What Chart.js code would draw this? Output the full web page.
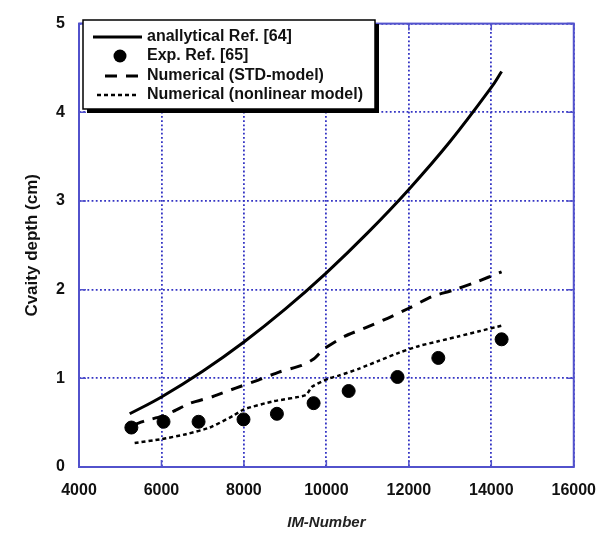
<!DOCTYPE html>
<html>
<head>
<meta charset="utf-8">
<script src="https://cdn.jsdelivr.net/npm/chart.js@4"></script>
<style>
  html, body { margin: 0; padding: 0; background: #fff; }
  #wrap { width: 610px; height: 538px; }
</style>
</head>
<body>
<div id="wrap"><canvas id="chart" width="610" height="538"></canvas></div>
<script>
// ---- data ----
const analyticalX = [5230, 6000, 7000, 8000, 9000, 10000, 11000, 12000, 13000, 14000, 14250];
const analyticalY = [0.60, 0.79, 1.08, 1.41, 1.78, 2.19, 2.64, 3.13, 3.67, 4.28, 4.46];

const expX = [5270, 6050, 6900, 7990, 8800, 9690, 10540, 11725, 12715, 14250];
const expY = [0.445, 0.51, 0.51, 0.537, 0.60, 0.72, 0.857, 1.015, 1.23, 1.44];

const stdX = [5300, 5600, 6000, 6300, 6700, 7250, 7800, 8350, 8850, 9400, 9700, 9950, 10450, 11000, 11500, 12000, 12550, 13050, 13600, 14250];
const stdY = [0.47, 0.52, 0.57, 0.63, 0.72, 0.795, 0.89, 0.98, 1.07, 1.145, 1.22, 1.335, 1.475, 1.58, 1.68, 1.79, 1.92, 1.99, 2.08, 2.20];

const nonlinX = [5350, 6000, 6600, 7170, 7730, 8000, 8700, 9500, 9650, 10070, 10300, 10800, 11280, 11770, 12250, 12730, 13220, 13700, 14300];
const nonlinY = [0.27, 0.315, 0.37, 0.445, 0.575, 0.65, 0.74, 0.81, 0.905, 1.0, 1.03, 1.11, 1.20, 1.29, 1.365, 1.42, 1.475, 1.53, 1.60];

const legendLabels = ['anallytical Ref. [64]', 'Exp. Ref. [65]', 'Numerical (STD-model)', 'Numerical (nonlinear model)'];

const BLUE = '#3434c4';
const FRAME = '#5252cc';
const FONT = 'Liberation Sans, Arial, sans-serif';

const pts = (xs, ys) => xs.map((x, i) => ({ x, y: ys[i] }));

// solid frame + short inner ticks
const framePlugin = {
    id: 'frame',
    beforeDatasetsDraw(chart) {
        const { ctx, chartArea: a, scales } = chart;
        ctx.save();
        ctx.strokeStyle = FRAME;
        ctx.lineWidth = 2;
        ctx.strokeRect(a.left, a.top, a.right - a.left, a.bottom - a.top);
        ctx.lineWidth = 1.5;
        ctx.beginPath();
        scales.x.ticks.forEach(t => {
            const px = scales.x.getPixelForValue(t.value);
            ctx.moveTo(px, a.bottom); ctx.lineTo(px, a.bottom - 7);
            ctx.moveTo(px, a.top); ctx.lineTo(px, a.top + 7);
        });
        scales.y.ticks.forEach(t => {
            const py = scales.y.getPixelForValue(t.value);
            ctx.moveTo(a.left, py); ctx.lineTo(a.left + 7, py);
            ctx.moveTo(a.right, py); ctx.lineTo(a.right - 7, py);
        });
        ctx.stroke();
        ctx.restore();
    }
};

// boxed legend with drop shadow, top-left inside the plot
const legendPlugin = {
    id: 'boxLegend',
    afterDatasetsDraw(chart) {
        const { ctx } = chart;
        const x0 = 83, y0 = 20, w = 292, h = 89;
        ctx.save();
        ctx.fillStyle = '#000';
        ctx.fillRect(x0 + 4, y0 + 4, w, h);
        ctx.fillStyle = '#fff';
        ctx.fillRect(x0, y0, w, h);
        ctx.strokeStyle = '#000';
        ctx.lineWidth = 1.5;
        ctx.strokeRect(x0, y0, w, h);

        const rows = [37, 56, 76, 95];
        ctx.strokeStyle = '#000';
        // solid
        ctx.lineWidth = 3;
        ctx.beginPath(); ctx.moveTo(93, rows[0]); ctx.lineTo(142, rows[0]); ctx.stroke();
        // dot
        ctx.beginPath(); ctx.arc(120, rows[1], 6.5, 0, Math.PI * 2); ctx.fillStyle = '#000'; ctx.fill();
        // dashed
        ctx.setLineDash([12, 9]);
        ctx.beginPath(); ctx.moveTo(105, rows[2]); ctx.lineTo(140, rows[2]); ctx.stroke();
        // dotted
        ctx.lineWidth = 2.5;
        ctx.setLineDash([4, 3]);
        ctx.beginPath(); ctx.moveTo(97, rows[3]); ctx.lineTo(139, rows[3]); ctx.stroke();
        ctx.setLineDash([]);

        ctx.fillStyle = '#111';
        ctx.font = 'bold 16px ' + FONT;
        ctx.textBaseline = 'middle';
        legendLabels.forEach((t, i) => ctx.fillText(t, 147, rows[i]));
        ctx.restore();
    }
};

new Chart(document.getElementById('chart'), {
    type: 'scatter',
    data: {
        datasets: [
            {
                type: 'line',
                label: legendLabels[0],
                data: pts(analyticalX, analyticalY),
                borderColor: '#000',
                borderWidth: 3,
                pointRadius: 0,
                tension: 0.4,
                fill: false
            },
            {
                label: legendLabels[1],
                data: pts(expX, expY),
                backgroundColor: '#000',
                borderColor: '#000',
                pointRadius: 6.5
            },
            {
                type: 'line',
                label: legendLabels[2],
                data: pts(stdX, stdY),
                borderColor: '#000',
                borderWidth: 3,
                borderDash: [12, 9],
                pointRadius: 0,
                tension: 0.2,
                fill: false
            },
            {
                type: 'line',
                label: legendLabels[3],
                data: pts(nonlinX, nonlinY),
                borderColor: '#000',
                borderWidth: 2.5,
                borderDash: [4, 3],
                pointRadius: 0,
                tension: 0.2,
                fill: false
            }
        ]
    },
    options: {
        responsive: false,
        animation: false,
        layout: { padding: { top: 14, right: 35, left: 0, bottom: 0 } },
        plugins: {
            legend: { display: false },
            tooltip: { enabled: false }
        },
        scales: {
            x: {
                type: 'linear',
                min: 4000,
                max: 16000,
                afterFit: s => { s.height = 71; },
                ticks: {
                    stepSize: 2000,
                    padding: 14,
                    color: '#111',
                    font: { family: FONT, size: 16, weight: 'bold' },
                    callback: v => String(v)
                },
                grid: { color: BLUE, lineWidth: 1.8, drawTicks: false },
                border: { display: false, dash: [1.8, 2.4] },
                title: {
                    display: true,
                    text: 'IM-Number',
                    color: '#222',
                    font: { family: FONT, size: 15, weight: 'bold', style: 'italic' },
                    padding: { top: 0, bottom: 6 }
                }
            },
            y: {
                min: 0,
                max: 5,
                afterFit: s => { s.width = 79; },
                ticks: {
                    stepSize: 1,
                    padding: 14,
                    color: '#111',
                    font: { family: FONT, size: 16, weight: 'bold' }
                },
                grid: { color: BLUE, lineWidth: 1.8, drawTicks: false },
                border: { display: false, dash: [1.8, 2.4] },
                title: {
                    display: true,
                    text: 'Cvaity depth (cm)',
                    color: '#111',
                    font: { family: FONT, size: 17, weight: 'bold' },
                    padding: { top: 22, bottom: 0 }
                }
            }
        }
    },
    plugins: [framePlugin, legendPlugin]
});
</script>
</body>
</html>
